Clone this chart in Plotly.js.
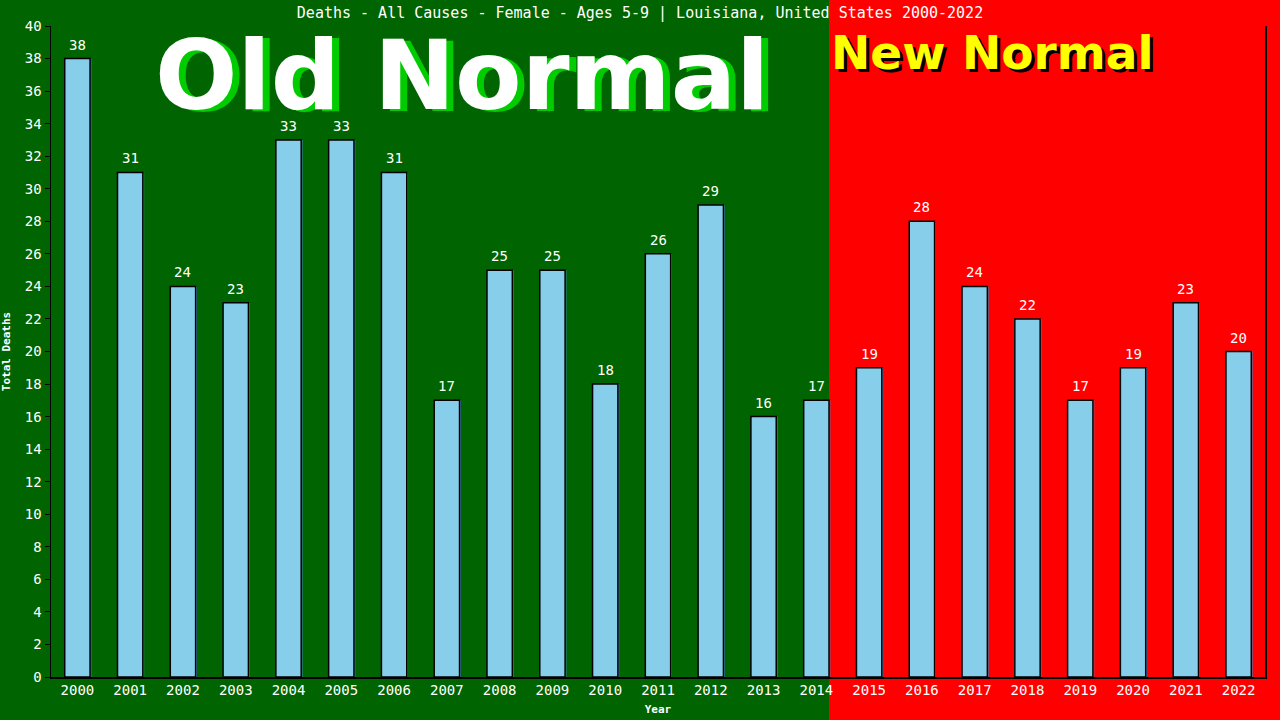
<!DOCTYPE html>
<html><head><meta charset="utf-8">
<script src="https://cdn.plot.ly/plotly-3.0.1.min.js"></script>
<style>html,body{margin:0;padding:0;background:#ff0000;}#chart{width:1280px;height:720px;}</style>
</head><body><div id="chart"></div>
<script>
const years = ["2000","2001","2002","2003","2004","2005","2006","2007","2008","2009","2010","2011","2012","2013","2014","2015","2016","2017","2018","2019","2020","2021","2022"];
const deaths = [38,31,24,23,33,33,31,17,25,25,18,26,29,16,17,19,28,24,22,17,19,23,20];
const titleText = "Deaths - All Causes - Female - Ages 5-9 | Louisiana, United States 2000-2022";
const oldLabel = "Old Normal";
const newLabel = "New Normal";
const splitIndex = 14; // last "Old Normal" year index

const mono = "DejaVu Sans Mono, Liberation Mono, monospace";
const n = years.length;
const barW = 0.48;
const splitFrac = (splitIndex + barW/2 + 0.5) / n;

const shadow = {
  type: 'bar', x: years, y: deaths, width: barW, offset: -barW/2 + 0.025,
  marker: {color: '#4682B4', line: {width: 0}}, hoverinfo: 'skip', showlegend: false
};
const bars = {
  type: 'bar', x: years, y: deaths, width: barW, offset: -barW/2,
  marker: {color: '#87CEEB', line: {color: '#000000', width: 1.5}},
  showlegend: false
};

const valueLabels = years.map((yr, i) => ({
  x: i, y: deaths[i], xref: 'x', yref: 'y', text: String(deaths[i]),
  showarrow: false, yanchor: 'bottom', yshift: 4,
  font: {color: '#ffffff', size: 14, family: mono}
}));

const layout = {
  width: 1280, height: 720,
  margin: {l: 51, r: 15, t: 26, b: 43},
  paper_bgcolor: '#ff0000', plot_bgcolor: 'rgba(0,0,0,0)',
  barmode: 'overlay',
  title: {text: titleText, x: 0.5, xanchor: 'center', xref: 'container', yref: 'container', y: 1 - 13/720, yanchor: 'middle',
          font: {family: mono, size: 15, color: '#ffffff'}},
  xaxis: {type: 'category', range: [-0.5, n - 0.5], showgrid: false, zeroline: false,
          showline: true, linecolor: '#000000', linewidth: 1.5, ticks: '',
          tickfont: {family: mono, size: 14, color: '#ffffff'},
          title: {text: '<b>Year</b>', font: {family: mono, size: 11, color: '#ffffff'}, standoff: 8}},
  yaxis: {range: [0, 40], dtick: 2, showgrid: false, zeroline: false,
          showline: true, linecolor: '#000000', linewidth: 1.5, mirror: true,
          ticks: 'outside', ticklen: 5, tickcolor: '#000000',
          tickfont: {family: mono, size: 14, color: '#ffffff'},
          title: {text: '<b>Total Deaths</b>', font: {family: mono, size: 11, color: '#ffffff'}, standoff: 12}},
  shapes: [
    {type: 'rect', xref: 'paper', yref: 'paper', x0: -0.1, x1: splitFrac, y0: -0.2, y1: 1.2,
     fillcolor: '#006400', line: {width: 0}, layer: 'below'}
  ],
  annotations: [
    {text: '<b>' + oldLabel + '</b>', xref: 'paper', yref: 'paper', x: (462+7-51)/1214, y: 1 - (75+2-26)/651,
     showarrow: false, font: {family: 'DejaVu Sans', size: 97, color: '#00cc00'}, xanchor: 'center', yanchor: 'middle'},
    {text: '<b>' + oldLabel + '</b>', xref: 'paper', yref: 'paper', x: (462-51)/1214, y: 1 - (75-26)/651,
     showarrow: false, font: {family: 'DejaVu Sans', size: 97, color: '#ffffff'}, xanchor: 'center', yanchor: 'middle'},
    {text: '<b>' + newLabel + '</b>', xref: 'paper', yref: 'paper', x: splitFrac + 3/1214, y: 1 - (52+3-26)/651,
     showarrow: false, font: {family: 'DejaVu Sans', size: 47, color: '#000000'}, xanchor: 'left', yanchor: 'middle'},
    {text: '<b>' + newLabel + '</b>', xref: 'paper', yref: 'paper', x: splitFrac, y: 1 - (52-26)/651,
     showarrow: false, font: {family: 'DejaVu Sans', size: 47, color: '#ffff00'}, xanchor: 'left', yanchor: 'middle'}
  ].concat(valueLabels)
};

Plotly.newPlot('chart', [shadow, bars], layout, {displayModeBar: false, staticPlot: true});
</script></body></html>
